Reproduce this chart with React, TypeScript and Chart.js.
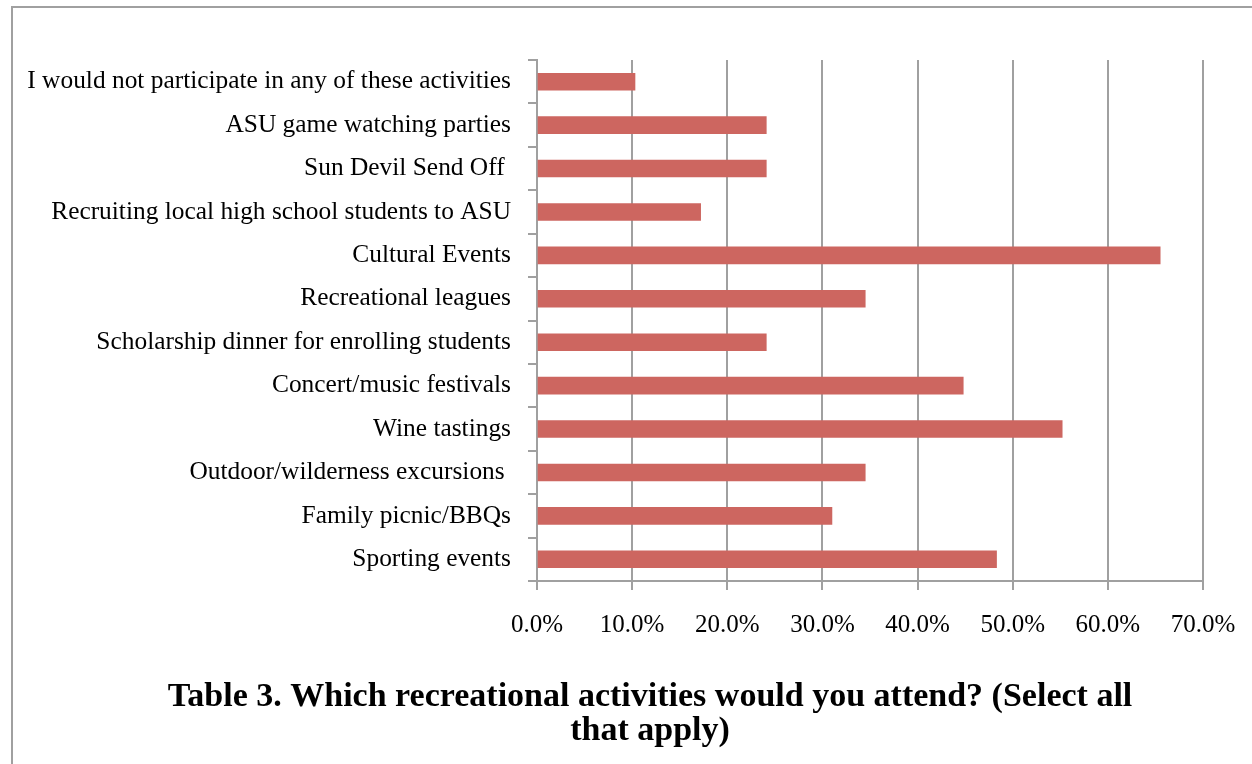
import React, { useEffect, useRef } from "react";
import { Chart, registerables } from "chart.js";

Chart.register(...registerables);

const categories: string[] = [
  "I would not participate in any of these activities",
  "ASU game watching parties",
  "Sun Devil Send Off ",
  "Recruiting local high school students to ASU",
  "Cultural Events",
  "Recreational leagues",
  "Scholarship dinner for enrolling students",
  "Concert/music festivals",
  "Wine tastings",
  "Outdoor/wilderness excursions ",
  "Family picnic/BBQs",
  "Sporting events",
];

const percentValues: number[] = [10.3, 24.1, 24.1, 17.2, 65.5, 34.5, 24.1, 44.8, 55.2, 34.5, 31.0, 48.3];

const xTickValues: number[] = [0, 10, 20, 30, 40, 50, 60, 70];

const titleLines: string[] = [
  "Table 3. Which recreational activities would you attend? (Select all",
  "that apply)",
];

const FONT = "'Liberation Serif', 'Times New Roman', serif";
const GRID = "#A0A0A0";

const titleWidthPlugin = {
  id: "titleWidth",
  afterLayout(chart: any) {
    const t = chart.titleBlock;
    if (t) {
      t.left = 0;
      t.right = 1274;
      t.width = 1274;
    }
  },
};

export default function App() {
  const ref = useRef<HTMLCanvasElement | null>(null);

  useEffect(() => {
    if (!ref.current) return;
    const chart = new Chart(ref.current, {
      type: "bar",
      data: {
        labels: categories,
        datasets: [
          {
            data: percentValues,
            backgroundColor: "#CD6660",
            borderWidth: 0,
            barThickness: 17,
          },
        ],
      },
      plugins: [titleWidthPlugin],
      options: {
        indexAxis: "y",
        responsive: false,
        animation: false,
        layout: { padding: { top: 52, right: 166, bottom: 16, left: 0 } },
        plugins: {
          legend: { display: false },
          tooltip: { enabled: false },
          title: {
            display: true,
            position: "bottom",
            text: titleLines,
            color: "#000",
            font: { family: FONT, size: 34, weight: "bold", lineHeight: 1.0 },
            padding: { top: 0, bottom: 0 },
          },
        },
        scales: {
          x: {
            type: "linear",
            min: 0,
            max: 70,
            afterBuildTicks: (scale: any) => {
              scale.ticks = xTickValues.map((v) => ({ value: v }));
            },
            afterFit: (scale: any) => {
              scale.height = 99;
            },
            ticks: {
              color: "#000",
              font: { family: FONT, size: 25 },
              padding: 20,
              callback: (v: any) => Number(v).toFixed(1) + "%",
            },
            grid: {
              color: GRID,
              lineWidth: 2,
              drawTicks: true,
              tickLength: 9,
            },
            border: { display: true, color: GRID, width: 2 },
          },
          y: {
            type: "category",
            afterFit: (scale: any) => {
              scale.width = 524;
            },
            ticks: {
              color: "#000",
              font: { family: FONT, size: 25.4 },
              padding: 17,
            },
            grid: {
              offset: true,
              drawOnChartArea: false,
              drawTicks: true,
              tickLength: 9,
              color: GRID,
              lineWidth: 2,
            },
            border: { display: true, color: GRID, width: 2 },
          },
        },
      },
    });
    return () => chart.destroy();
  }, []);

  return (
    <div
      style={{
        position: "fixed",
        left: 11,
        top: 6,
        width: 1380,
        height: 800,
        border: "2px solid #A0A0A0",
        background: "#fff",
      }}
    >
      <canvas ref={ref} width={1356} height={756} style={{ display: "block", width: 1356, height: 756 }} />
    </div>
  );
}
